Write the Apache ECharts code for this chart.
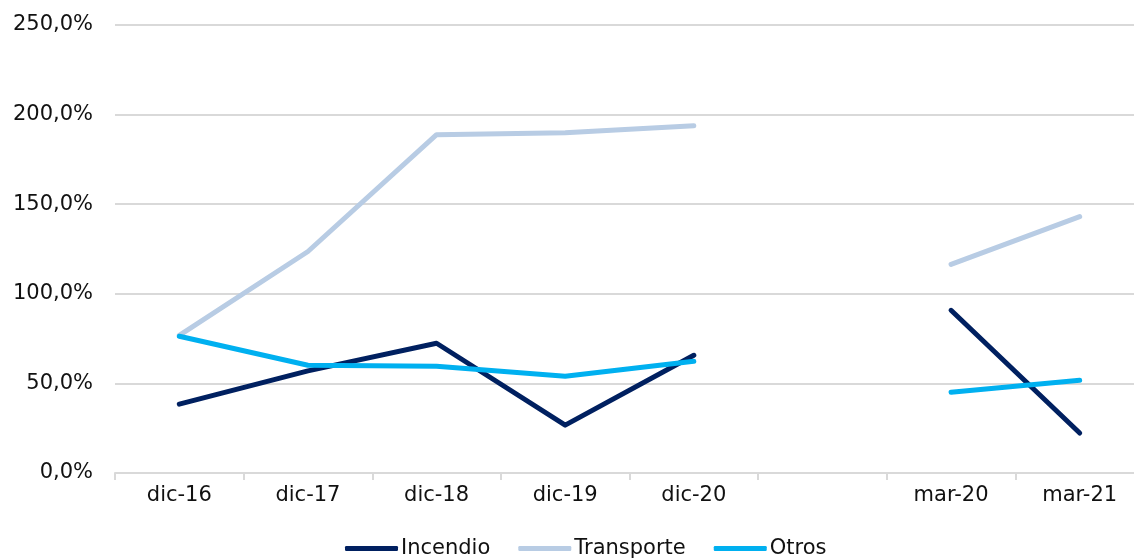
<!DOCTYPE html>
<html>
<head>
<meta charset="utf-8">
<script src="https://cdn.jsdelivr.net/npm/echarts@6/dist/echarts.min.js"></script>
<style>
  html, body { margin: 0; padding: 0; background: #fff; }
  #chart { width: 1134px; height: 558px; }
</style>
</head>
<body>
<div id="chart"></div>
<script>
// categories (empty slot keeps the gap between dic-20 and mar-20)
const categories = ['dic-16', 'dic-17', 'dic-18', 'dic-19', 'dic-20', '', 'mar-20', 'mar-21'];
const yTicks = [0, 50, 100, 150, 200, 250];

const incendio   = [38.4, 57.0, 72.4, 26.7, 65.7, null, 90.8, 22.3];
const transporte = [76.8, 123.6, 188.8, 189.9, 193.8, null, 116.4, 143.1];
const otros      = [76.3, 60.1, 59.6, 54.0, 62.4, null, 45.1, 51.8];

const font = 'DejaVu Sans, Verdana, sans-serif';
const textColor = '#111';
const gridColor = '#d9d9d9';

function lineSeries(name, data, color) {
  return {
    name: name,
    type: 'line',
    data: data,
    connectNulls: false,
    symbol: 'none',
    lineStyle: { color: color, width: 5, cap: 'round', join: 'round' },
    itemStyle: { color: color },
    emphasis: { disabled: true }
  };
}

const chart = echarts.init(document.getElementById('chart'), null, { renderer: 'canvas' });
chart.setOption({
  animation: false,
  grid: { left: 115, top: 25, width: 1029, bottom: 85, outerBoundsMode: 'none' },
  legend: {
    data: ['Incendio', 'Transporte', 'Otros'],
    bottom: -6,
    left: 340,
    icon: 'roundRect',
    itemWidth: 53,
    itemHeight: 5,
    itemGap: 28,
    textStyle: { fontFamily: font, fontSize: 21, color: textColor, padding: [0, 0, 0, -2] }
  },
  xAxis: {
    type: 'category',
    data: categories,
    boundaryGap: true,
    axisLine: { lineStyle: { color: gridColor, width: 2 } },
    axisTick: { show: true, length: 7, lineStyle: { color: gridColor, width: 2 } },
    axisLabel: { fontFamily: font, fontSize: 21, color: textColor, margin: 12, interval: 0 }
  },
  yAxis: {
    type: 'value',
    min: yTicks[0],
    max: yTicks[yTicks.length - 1],
    interval: 50,
    axisLine: { show: false },
    axisTick: { show: false },
    splitLine: { lineStyle: { color: gridColor, width: 2 } },
    axisLabel: {
      fontFamily: font, fontSize: 21, color: textColor, margin: 22,
      formatter: v => v.toFixed(1).replace('.', ',') + '%'
    }
  },
  series: [
    lineSeries('Incendio', incendio, '#002060'),
    lineSeries('Transporte', transporte, '#B8CCE4'),
    lineSeries('Otros', otros, '#00B0F0')
  ]
});
</script>
</body>
</html>
